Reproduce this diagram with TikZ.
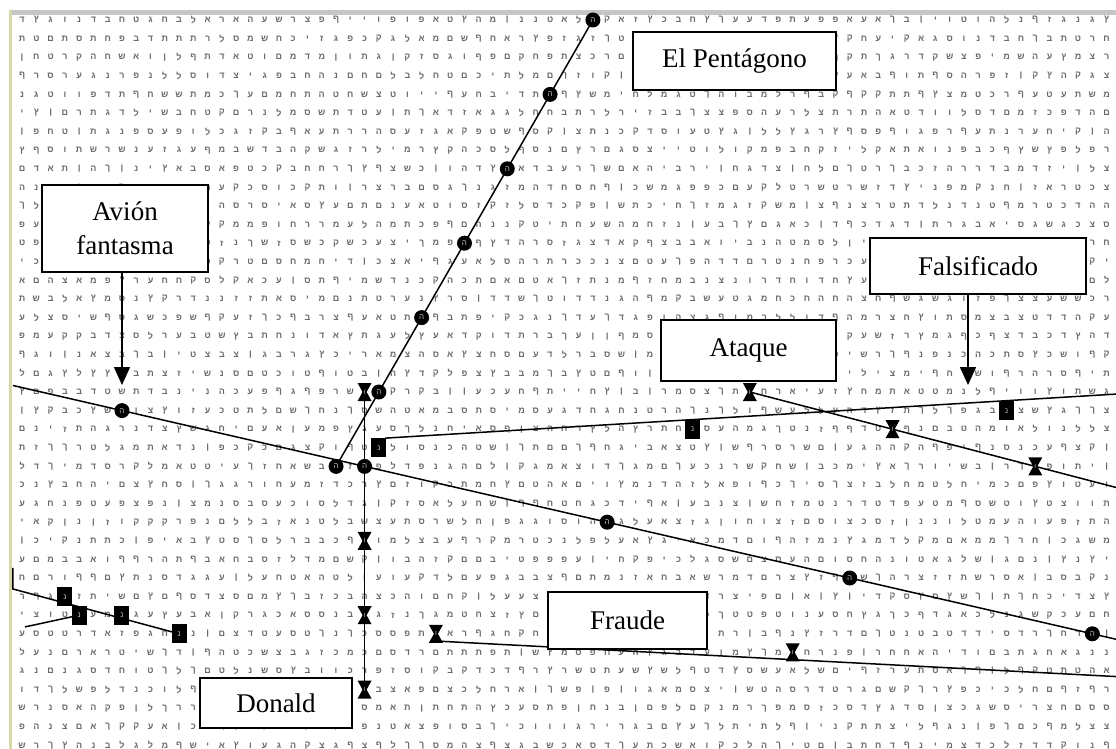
\documentclass[tikz,border=0pt]{standalone}
\usepackage{fontspec}
\setmainfont{Liberation Serif}
\newfontfamily\hebfont[Script=Hebrew]{Liberation Sans}
\usepackage{tikz}
\usetikzlibrary{arrows.meta, positioning}
\definecolor{edgeyellow}{RGB}{214,216,168}
\tikzset{
  tagbox/.style={rectangle, draw=black, line width=1.6pt, fill=white, align=center,
                 font=\fontsize{27}{34}\selectfont, inner sep=0pt},
  hebl/.style={font=\hebfont\bfseries\fontsize{9}{9}\selectfont, text=black!58, inner sep=0pt},
  dotmark/.style={circle, fill=black, minimum size=15pt, inner sep=0pt,
                  font=\hebfont\fontsize{8}{8}\selectfont, text=gray!55},
  boxmark/.style={rectangle, fill=black, minimum width=15pt, minimum height=19pt, inner sep=0pt,
                  font=\hebfont\fontsize{8}{8}\selectfont, text=gray!55},
  hourmark/.style={rectangle, minimum width=14pt, minimum height=18pt, inner sep=0pt,
                   font=\hebfont\fontsize{7}{7}\selectfont, text=gray!55,
    path picture={\fill[black] (path picture bounding box.north west) -- (path picture bounding box.north east)
      -- ([xshift=2pt]path picture bounding box.center) -- (path picture bounding box.south east)
      -- (path picture bounding box.south west) -- ([xshift=-2pt]path picture bounding box.center) -- cycle;}},
  codeline/.style={line width=1.5pt},
  pointer/.style={-{Triangle[width=16pt,length=18pt]}, line width=1.5pt},
}

\begin{document}
\begin{tikzpicture}[x=1pt, y=-1pt]
\useasboundingbox (0,0) rectangle (1116,749);
\fill[white] (0,0) rectangle (1116,749);
\clip (0,0) rectangle (1116,749);
% window edge
\fill[gray!45] (10,10) rectangle (1116,15);
\fill[edgeyellow] (9,10) rectangle (12,749);

% letter grid, one cell = one letter
\begin{scope}[shift={(22.1,20)}, x=14.27pt, y=-18.6pt]
  \pgfmathsetseed{11}
  \foreach \r in {0,...,39}{
    \foreach \c in {0,...,76}{
      \pgfmathrandominteger{\k}{1488}{1514}
      \node[hebl] at (\c,\r) {\char\k};
    }
  }
  % El Pentagono
  \coordinate (pen0) at (40,0);  \coordinate (pen1) at (37,4);
  \coordinate (pen2) at (34,8);  \coordinate (pen3) at (31,12);
  \coordinate (pen4) at (28,16); \coordinate (pen5) at (25,20);
  \coordinate (pen6) at (22,24);
  % Avion fantasma
  \coordinate (av0) at (7,21);  \coordinate (av1) at (24,24);
  \coordinate (av2) at (41,27); \coordinate (av3) at (58,30);
  \coordinate (av4) at (75,33);
  \coordinate (avL) at (-0.64,19.65); \coordinate (avR) at (76.7,33.3);
  % Donald
  \coordinate (don0) at (24,20); \coordinate (don1) at (24,28);
  \coordinate (don2) at (24,32); \coordinate (don3) at (24,36);
  % Ataque
  \coordinate (at0) at (51,20); \coordinate (at1) at (61,22);
  \coordinate (at2) at (71,24); \coordinate (atR) at (76.7,25.14);
  % Falsificado
  \coordinate (fa0) at (25,23); \coordinate (fa1) at (47,22);
  \coordinate (fa2) at (69,21);
  \coordinate (faL) at (25.45,22.48); \coordinate (faR) at (76.7,20.11);
  % Fraude
  \coordinate (fr0) at (29,33); \coordinate (fr1) at (54,34);
  \coordinate (frL) at (29.3,33.4); \coordinate (frR) at (76.7,35.3);
  % bottom left
  \coordinate (bl0) at (3,31); \coordinate (bl1) at (4,32);
  \coordinate (bl2) at (7,32); \coordinate (bl3) at (11,33);
  \coordinate (blA) at (-0.64,29.46); \coordinate (blB) at (-0.64,30.59);
  \coordinate (blC) at (0.2,32.63);
\end{scope}

% connecting lines
\draw[codeline] (pen0) -- (pen6);
\draw[codeline] (avL) -- (avR);
\draw[codeline] (don0) -- (don3);
\draw[codeline] (at0) -- (atR);
\draw[codeline] (faL) -- (faR);
\draw[codeline] (frL) -- (frR);
\draw[codeline] (blA) -- (blB) -- (bl3);
\draw[codeline] (blC) -- (bl1);

% marks on the letters
\foreach \m in {pen0,pen1,pen2,pen3,pen4,pen5,pen6,av0,av1,av2,av3,av4}
  \node[dotmark] (\m-mk) at (\m) {\char1492};
\foreach \m in {fa0,fa1,fa2,bl0,bl1,bl2,bl3}
  \node[boxmark] (\m-mk) at (\m) {\char1504};
\foreach \m in {don0,don1,don2,don3,at0,at1,at2,fr0,fr1}
  \node[hourmark] (\m-mk) at (\m) {\char1493};

% labels
\node[tagbox, minimum width=203pt, minimum height=58pt] (pentagono) at (734.5,61) {El Pentágono};
\node[tagbox, minimum width=166pt, minimum height=87pt] (avion) at (125,228.5) {Avión\\fantasma};
\node[tagbox, minimum width=216pt, minimum height=56pt] (falsificado) at (978,266) {Falsificado};
\node[tagbox, minimum width=175pt, minimum height=61pt] (ataque) at (748.5,350.5) {Ataque};
\node[tagbox, minimum width=159pt, minimum height=57pt] (fraude) at (627.5,620.5) {Fraude};
\node[tagbox, minimum width=152pt, minimum height=50pt] (donald) at (276,703) {Donald};

\coordinate (avtip) at (122,385);
\coordinate (fatip) at (968,385);
\draw[pointer] (avion.south -| avtip) -- (avtip);
\draw[pointer] (falsificado.south -| fatip) -- (fatip);
\end{tikzpicture}
\end{document}
